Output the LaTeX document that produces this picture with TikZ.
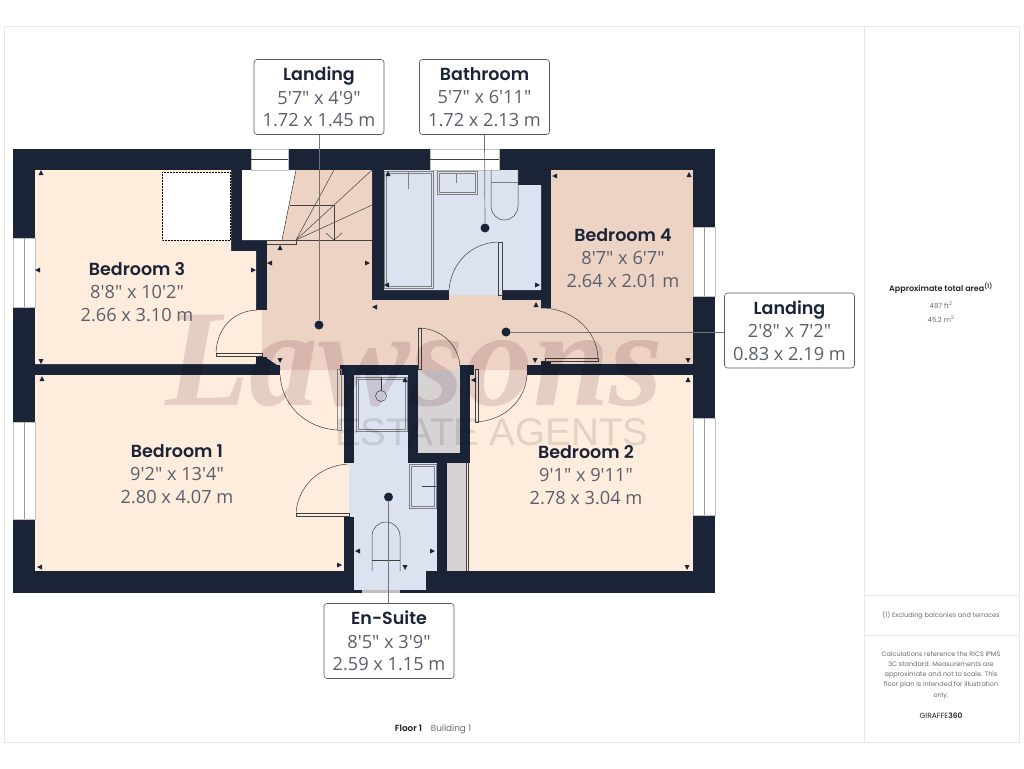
\documentclass[tikz,border=0pt]{standalone}
\usepackage{fontspec}
\usepackage{xcolor}
\usetikzlibrary{positioning}
\newfontfamily\namefont{Poppins}[BoldFont={Poppins SemiBold}]
\newfontfamily\dimfont{Open Sans}
\newfontfamily\markserif{Liberation Serif}
\newfontfamily\marksans{Liberation Sans}
\definecolor{wall}{HTML}{1B2436}
\definecolor{bedfloor}{HTML}{FEECDC}
\definecolor{halfloor}{HTML}{EDD3C3}
\definecolor{wetfloor}{HTML}{DDE2F1}
\definecolor{cupfloor}{HTML}{D6D3D2}
\definecolor{framegrey}{HTML}{E6E6E6}
\definecolor{dimgrey}{HTML}{5A5F6B}
\definecolor{smallgrey}{HTML}{6B6B6B}
\definecolor{markrose}{HTML}{8A5A70}
\newcommand{\roomname}[1]{{\namefont\bfseries\fontsize{17.5}{22.5}\selectfont\color{wall}#1}}
\newcommand{\roomdim}[1]{{\dimfont\fontsize{18.2}{22.5}\selectfont\color{dimgrey}#1}}

\begin{document}
\begin{tikzpicture}[x=1pt,y=-1pt]
	\tikzstyle{bed_style} = [fill=bedfloor]
	\tikzstyle{hall_style} = [fill=halfloor]
	\tikzstyle{wet_style} = [fill=wetfloor]
	\tikzstyle{cup_style} = [fill=cupfloor]
	\tikzstyle{window_style} = [fill=white,draw=black!25,line width=0.5pt]
	\tikzstyle{thin_style} = [draw=black!75,line width=0.5pt]
	\tikzstyle{fitting_style} = [draw=black!50,line width=0.7pt]
	\tikzstyle{pane_style} = [draw=black!40,line width=1pt]
	\tikzstyle{leader_style} = [draw=black!55,line width=0.7pt]
	\tikzstyle{dot_style} = [circle,fill=wall,inner sep=0pt,minimum size=9pt]
	\tikzstyle{box_style} = [draw=black!65,fill=white,rounded corners=3pt,line width=0.6pt,inner sep=0pt,align=center,minimum width=130pt,minimum height=75pt,font=\fontsize{17}{22.5}\selectfont]
	\tikzstyle{room_style} = [inner sep=0pt,align=center,font=\fontsize{17}{22.5}\selectfont]
	\tikzstyle{panel_style} = [inner sep=0pt,align=center,text=smallgrey,font=\namefont\fontsize{7}{12}\selectfont]
	% page and frame
	\useasboundingbox (0,0) rectangle (1024,768);
	\fill[white] (0,0) rectangle (1024,768);
	\draw[framegrey,line width=0.8pt] (4,26) rectangle (1019,742);
	\draw[framegrey,line width=0.8pt] (864,26) -- (864,742);
	\draw[framegrey,line width=0.8pt] (864,595) -- (1019,595);
	\draw[framegrey,line width=0.8pt] (864,635) -- (1019,635);
	% walls
	\fill[wall] (13,149) rectangle (715,593);
	% bedrooms
	\fill[bed_style] (35,170) -- (231,170) -- (231,251) -- (256,251) -- (256,310) -- (262,310) -- (262,357) -- (256,357) -- (256,364) -- (35,364) -- cycle;
	\fill[bed_style] (35,375) rectangle (344,571);
	\fill[bed_style] (280,370) rectangle (340,376);
	\fill[bed_style] (344,463) rectangle (349,517);
	\fill[bed_style] (470,375) rectangle (693,463);
	\fill[bed_style] (466,463) rectangle (693,571);
	\fill[bed_style] (474,370) rectangle (527,376);
	% landing and bedroom 4
	\fill[hall_style] (296,170) -- (372,170) -- (372,240) -- (267,240) -- (282,240) -- cycle;
	\fill[hall_style] (267,240) rectangle (372,311);
	\fill[hall_style] (267,300) rectangle (541,365);
	\fill[hall_style] (262,310) rectangle (267,357);
	\fill[hall_style] (449,295) rectangle (502,301);
	\fill[hall_style] (541,308) rectangle (693,364);
	\fill[hall_style] (551,170) rectangle (693,310);
	\fill[hall_style] (280,364) rectangle (340,370);
	\fill[hall_style] (418,364) rectangle (460,370);
	\fill[hall_style] (474,364) rectangle (527,370);
	\fill[wall] (541,361) rectangle (551,365);
	\fill[wall] (256,357) -- (265,357) -- (280,367) -- (280,370) -- (256,370) -- cycle;
	\fill[wall] (340,365) rectangle (418,375);
	\fill[wall] (460,365) rectangle (474,375);
	% bathroom and en-suite
	\fill[wet_style] (384,170) -- (518,170) -- (518,185) -- (541,185) -- (541,290) -- (502,290) -- (502,295) -- (449,295) -- (449,290) -- (384,290) -- cycle;
	\fill[wet_style] (354,375) rectangle (408,571);
	\fill[wet_style] (408,463) rectangle (437,571);
	\fill[wet_style] (354,571) rectangle (426,590);
	\fill[wet_style] (349,463) rectangle (354,517);
	\fill[black!25] (362,590) rectangle (400,593);
	% cupboards
	\fill[cup_style] (418,370) rectangle (460,453);
	\fill[cup_style] (447,463) rectangle (466,571);
	\draw[thin_style] (466,463) -- (466,571);
	\draw[thin_style] (468,463) -- (468,571);
	% void and stair cupboard
	\fill[white] (242,170) -- (296,170) -- (282,240) -- (242,240) -- cycle;
	\draw[thin_style] (296,170) -- (282,240);
	\draw[fill=white,draw=black,densely dotted,line width=0.5pt] (162,172) rectangle (230,240);
	% windows
	\draw[window_style] (13,238) rectangle (35,307);
	\draw[pane_style] (24,238) -- (24,307);
	\draw[window_style] (13,422) rectangle (35,519);
	\draw[pane_style] (24,422) -- (24,519);
	\draw[window_style] (693,227) rectangle (715,296);
	\draw[pane_style] (704,227) -- (704,296);
	\draw[window_style] (693,418) rectangle (715,515);
	\draw[pane_style] (704,418) -- (704,515);
	\draw[window_style] (251,149) rectangle (288,170);
	\draw[thin_style] (251,159) -- (288,159);
	\draw[window_style] (430,149) rectangle (499,170);
	\draw[thin_style] (430,159) -- (499,159);
	% stairs
	\draw[thin_style] (267,240) -- (372,240);
	\draw[thin_style] (267,244) -- (296,244) -- (296,240);
	\draw[thin_style] (296,240) -- (334,170);
	\draw[thin_style] (296,240) -- (372,170);
	\draw[thin_style] (296,240) -- (372,205);
	\draw[thin_style] (290,205) -- (334,205) -- (334,240);
	\draw[thin_style] (326,233) -- (334,240) -- (342,233);
	% doors
	\draw[thin_style] (257,310) .. controls (233,311) and (217,328) .. (216,353);
	\draw[thin_style] (216,353) rectangle (262,356);
	\draw[thin_style] (280,375) .. controls (282,405) and (305,428) .. (337,430);
	\draw[thin_style,draw=black!45] (337,369) rectangle (341,430);
	\draw[thin_style] (348,464) .. controls (318,466) and (298,487) .. (296,513);
	\draw[thin_style] (296,513) rectangle (349,516);
	\draw[thin_style] (449,290) .. controls (451,264) and (470,243) .. (498,242);
	\draw[thin_style] (498,242) rectangle (502,295);
	\draw[thin_style] (418,328) .. controls (441,328) and (459,345) .. (460,367);
	\draw[thin_style] (418,328) rectangle (421,369);
	\draw[thin_style] (527,375) .. controls (525,402) and (503,421) .. (475,422);
	\draw[thin_style] (475,369) rectangle (478,422);
	\draw[thin_style] (541,308) .. controls (572,308) and (597,330) .. (598,358);
	\draw[thin_style] (545,358) rectangle (598,361);
	% bath, basins, toilets, shower
	\draw[fitting_style] (384,171) rectangle (433,288);
	\draw[fitting_style] (386,173) rectangle (431,286);
	\draw[fitting_style] (408,171) -- (408,189);
	\draw[fitting_style] (437,171) rectangle (477,194);
	\draw[fitting_style] (439,173) rectangle (475,192);
	\draw[fitting_style] (456.5,173) -- (456.5,183);
	\draw[thin_style] (491,170) -- (491,206) arc[start angle=180,end angle=0,x radius=13.5,y radius=14] -- (518,170);
	\draw[fitting_style] (491,182) -- (518,182);
	\draw[fitting_style] (356,377) rectangle (407,431);
	\draw[fitting_style] (358,379) rectangle (405,429);
	\draw[thin_style] (381,396) circle (5.5);
	\draw[thin_style] (381,377) -- (381,391);
	\draw[fitting_style] (409,464) rectangle (436,508);
	\draw[fitting_style] (411,466) rectangle (434,506);
	\draw[thin_style] (422,486) -- (436,486);
	\draw[thin_style] (372,571) -- (372,536) arc[start angle=180,end angle=360,x radius=14,y radius=14] -- (400,571);
	\draw[thin_style] (372,560) -- (400,560);
	% measuring ticks
	\foreach \px/\py/\ang in {41/173/0,38/270/90,41/361/180,253/270/270,
		280/248/0,270/263/90,280/360/180,388/174/0,387/285/90,537/285/270,
		375/307/90,367/263/270,536/305/0,535/360/180,555/176/90,689/175/0,
		688/360/180,42/379/0,40/567/90,339/565/270,688/380/0,687/567/180,
		474/380/90,358/551/90,432/551/270,405/567/180,405/380/0}
		\fill[wall,shift={(\px,\py)},rotate=\ang] (-2.5,2) -- (2.5,2) -- (0,-3) -- cycle;
	% watermark
	\begin{scope}[blend mode=multiply]
		\node[inner sep=0pt,anchor=base west,text=markrose,opacity=0.2,font=\markserif\bfseries\itshape\fontsize{138}{138}\selectfont] (wmark) at (165,405) {Lawsons};
		\node[inner sep=0pt,anchor=base west,text=black,opacity=0.11,font=\marksans\fontsize{38.5}{38.5}\selectfont] (wsub) at (335,445) {ESTATE AGENTS};
	\end{scope}
	% room labels
	\node[room_style] (bed3) at (137,292) {\roomname{Bedroom 3}\\[1pt]\roomdim{8'8" x 10'2"}\\\roomdim{2.66 x 3.10 m}};
	\node[room_style] (bed4) at (623,258) {\roomname{Bedroom 4}\\[1pt]\roomdim{8'7" x 6'7"}\\\roomdim{2.64 x 2.01 m}};
	\node[room_style] (bed1) at (177,474) {\roomname{Bedroom 1}\\[1pt]\roomdim{9'2" x 13'4"}\\\roomdim{2.80 x 4.07 m}};
	\node[room_style] (bed2) at (586,475) {\roomname{Bedroom 2}\\[1pt]\roomdim{9'1" x 9'11"}\\\roomdim{2.78 x 3.04 m}};
	% callouts
	\node[dot_style] (d1) at (319,325) {};
	\node[dot_style] (d2) at (485,228) {};
	\node[dot_style] (d3) at (506,332) {};
	\node[dot_style] (d4) at (388.5,497) {};
	\node[box_style] (landtop) at (319,97) {\roomname{Landing}\\[1pt]\roomdim{5'7" x 4'9"}\\\roomdim{1.72 x 1.45 m}};
	\node[box_style] (bath) at (484.5,97) {\roomname{Bathroom}\\[1pt]\roomdim{5'7" x 6'11"}\\\roomdim{1.72 x 2.13 m}};
	\node[box_style] (landright) at (789.5,330.5) {\roomname{Landing}\\[1pt]\roomdim{2'8" x 7'2"}\\\roomdim{0.83 x 2.19 m}};
	\node[box_style] (ensuite) at (389,641) {\roomname{En-Suite}\\[1pt]\roomdim{8'5" x 3'9"}\\\roomdim{2.59 x 1.15 m}};
	\draw[leader_style] (d1) edge (landtop.south);
	\draw[leader_style] (d2) edge (bath.south);
	\draw[leader_style] (d3) edge (landright.west |- d3);
	\draw[leader_style] (d4) edge (ensuite.north -| d4);
	% side panel
	\node[panel_style,text=black!85] (areahead) at (941,288) {\bfseries\fontsize{8}{10}\selectfont Approximate total area\textsuperscript{(1)}};
	\node[panel_style] (areaft) at (941,305) {487 ft\textsuperscript{2}};
	\node[panel_style] (aream) at (941,319) {45.2 m\textsuperscript{2}};
	\node[panel_style,font=\namefont\fontsize{6.5}{10}\selectfont] (excl) at (941,615) {(1) Excluding balconies and terraces};
	\node[panel_style,font=\namefont\fontsize{6.5}{10.2}\selectfont] (calc) at (941,675) {Calculations reference the RICS IPMS\\3C standard. Measurements are\\approximate and not to scale. This\\floor plan is intended for illustration\\only.};
	\node[panel_style,text=black!85,font=\namefont\fontsize{7.5}{10}\selectfont] (giraffe) at (941,716) {GIRAFFE\textbf{360}};
	\node[panel_style,font=\namefont\fontsize{8.8}{10}\selectfont] (floor) at (433,729) {{\color{black!90}\bfseries Floor 1}\quad Building 1};
\end{tikzpicture}
\end{document}
